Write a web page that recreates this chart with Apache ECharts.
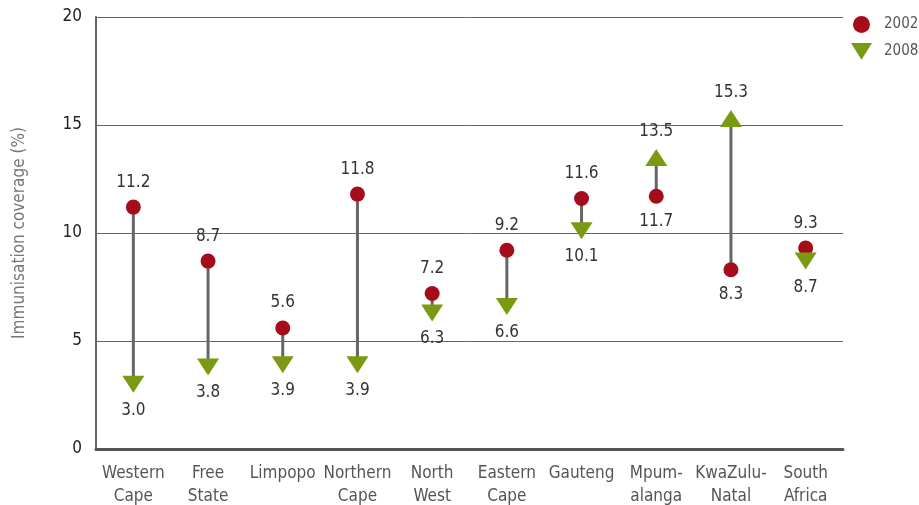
<!DOCTYPE html>
<html><head><meta charset="utf-8">
<script src="https://cdn.jsdelivr.net/npm/echarts@6/dist/echarts.min.js"></script>
<style>html,body{margin:0;padding:0;background:#fff}#c{width:919px;height:505px}</style>
</head><body><div id="c"></div>
<script>
var categories = ['Western\nCape','Free\nState','Limpopo','Northern\nCape','North\nWest','Eastern\nCape','Gauteng','Mpum-\nalanga','KwaZulu-\nNatal','South\nAfrica'];
var values2002 = [11.2, 8.7, 5.6, 11.8, 7.2, 9.2, 11.6, 11.7, 8.3, 9.3];
var values2008 = [3.0, 3.8, 3.9, 3.9, 6.3, 6.6, 10.1, 13.5, 15.3, 8.7];
var yTicks = [0, 5, 10, 15, 20];

var FONT = "'Liberation Sans Narrow','DejaVu Sans Condensed',sans-serif";
var DOWN_TRI = 'path://M0,0 L20,0 L10,16 Z';
var chart = echarts.init(document.getElementById('c'));

var d2002 = values2002.map(function(v, i){
  var up = values2008[i] > v;
  return { value: [i, v], label: { position: up ? 'bottom' : 'top' } };
});
var d2008 = values2008.map(function(v, i){
  var up = v > values2002[i];
  return { value: [i, v], symbolRotate: up ? 0 : 180, label: { position: up ? 'top' : 'bottom' } };
});
var links = values2002.map(function(v, i){ return [i, v, values2008[i]]; });

chart.setOption({
  animation: false,
  grid: { left: 96, right: 76, top: 17, bottom: 56, outerBoundsMode: 'none', containLabel: false },
  legend: {
    data: [{ name: '2002', icon: 'circle' }, { name: '2008', icon: DOWN_TRI }],
    orient: 'vertical', left: 851, top: 16, padding: 0,
    itemWidth: 21, itemHeight: 17, itemGap: 10,
    textStyle: { fontFamily: FONT, fontSize: 15, color: '#555', padding: [0, 0, 0, 7] }
  },
  xAxis: {
    type: 'category', data: categories,
    axisLine: { lineStyle: { color: '#555', width: 3 } },
    axisTick: { show: false },
    axisLabel: { fontFamily: FONT, fontSize: 17, color: '#555', lineHeight: 23, margin: 13, interval: 0 }
  },
  yAxis: {
    type: 'value', min: 0, max: 20, interval: 5,
    name: 'Immunisation coverage (%)', nameLocation: 'middle', nameGap: 68, nameRotate: 90,
    nameTextStyle: { fontFamily: FONT, fontSize: 17, color: '#777' },
    axisLine: { show: true, lineStyle: { color: '#666', width: 2 } },
    axisTick: { show: false },
    axisLabel: { fontFamily: FONT, fontSize: 17, color: '#222', margin: 14,
      formatter: function(v){ return yTicks.indexOf(v) >= 0 ? String(v) : ''; } },
    splitLine: { lineStyle: { color: '#666', width: 1 } }
  },
  series: [
    {
      type: 'custom', name: 'link', z: 1,
      data: links,
      renderItem: function(params, api){
        var p1 = api.coord([api.value(0), api.value(1)]);
        var p2 = api.coord([api.value(0), api.value(2)]);
        return { type: 'line', shape: { x1: p1[0], y1: p1[1], x2: p2[0], y2: p2[1] },
          style: { stroke: '#666', lineWidth: 3 } };
      },
      encode: { x: 0, y: [1, 2] }
    },
    {
      type: 'scatter', name: '2002', z: 3,
      symbol: 'circle', symbolSize: 15,
      itemStyle: { color: '#a50d1b', opacity: 1 },
      label: { show: true, fontFamily: FONT, fontSize: 17, color: '#333', distance: 9,
        formatter: function(p){ return p.value[1].toFixed(1); } },
      data: d2002
    },
    {
      type: 'scatter', name: '2008', z: 3,
      symbol: 'triangle', symbolSize: [22, 17], symbolRotate: 180,
      itemStyle: { color: '#7a9a12', opacity: 1 },
      label: { show: true, fontFamily: FONT, fontSize: 17, color: '#333', distance: 9,
        formatter: function(p){ return p.value[1].toFixed(1); } },
      data: d2008
    }
  ]
});
</script></body></html>
